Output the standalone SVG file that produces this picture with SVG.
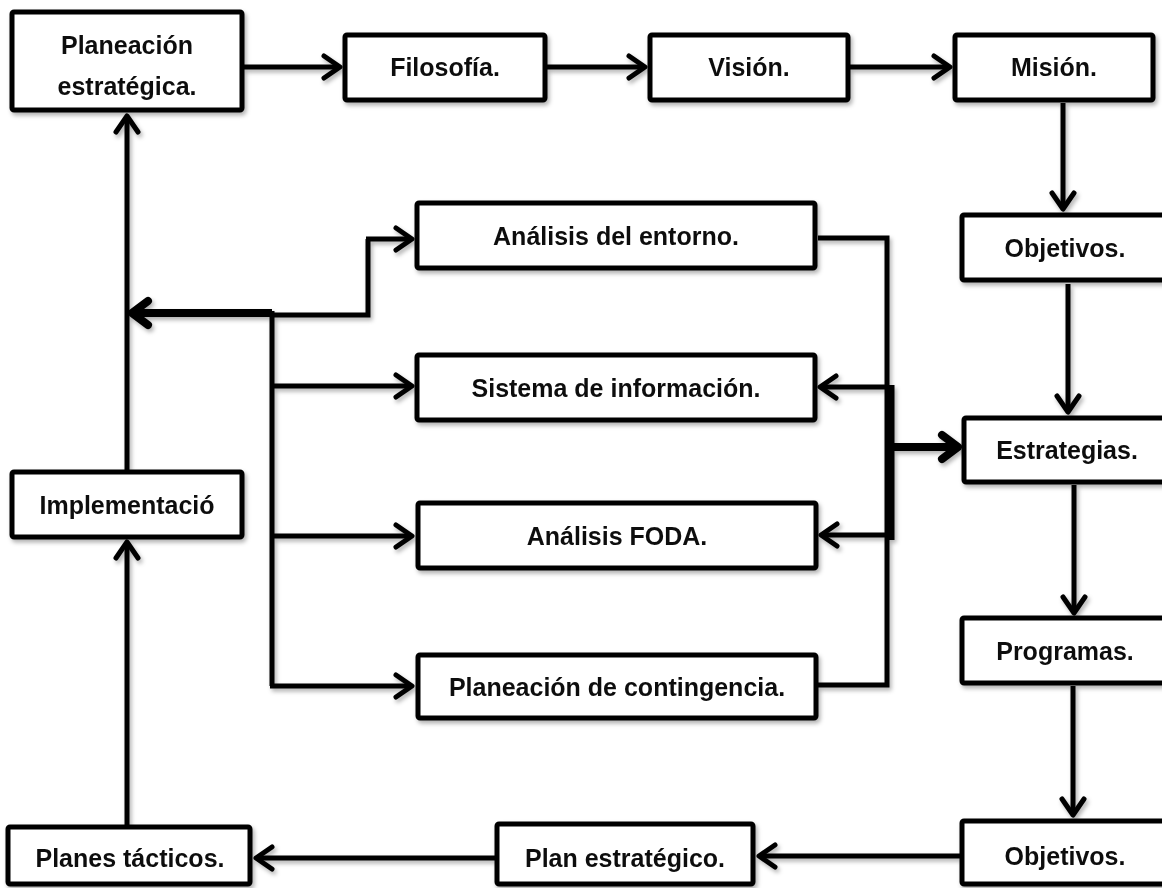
<svg xmlns="http://www.w3.org/2000/svg" width="1162" height="888" viewBox="0 0 1162 888">
<style>
.box{fill:#fff;stroke:#000;stroke-width:5;}
.lbl{font-family:"Liberation Sans",Arial,sans-serif;font-weight:bold;font-size:25px;fill:#111;text-anchor:middle;}
.ln{fill:none;stroke:#000;stroke-width:5;stroke-linejoin:miter;}
.lnA{fill:none;stroke:#000;stroke-width:5;marker-end:url(#ah);}
.thk{fill:none;stroke:#000;stroke-width:9;}
.thkA{fill:none;stroke:#000;stroke-width:8;marker-end:url(#ahT);}
</style>
<defs>
<filter id="sh" x="-10%" y="-10%" width="130%" height="140%">
<feDropShadow dx="2" dy="3" stdDeviation="2" flood-color="#000" flood-opacity="0.3"/>
</filter>
<marker id="ah" markerUnits="userSpaceOnUse" orient="auto" refX="0" refY="0" markerWidth="30" markerHeight="30" overflow="visible">
<path d="M-16,-11 L0,0 L-16,11" fill="none" stroke="#000" stroke-width="5" stroke-linecap="round" stroke-linejoin="round"/>
</marker>
<marker id="ahT" markerUnits="userSpaceOnUse" orient="auto" refX="0" refY="0" markerWidth="30" markerHeight="30" overflow="visible">
<path d="M-16,-12 L0,0 L-16,12" fill="none" stroke="#000" stroke-width="8" stroke-linecap="round" stroke-linejoin="round"/>
</marker>
</defs>
<rect width="1162" height="888" fill="#fff"/>

<g id="connectors" filter="url(#sh)">
<path class="lnA" d="M244,67 H340"/>
<path class="lnA" d="M547,67 H645"/>
<path class="lnA" d="M850,67 H950"/>
<path class="lnA" d="M1063,103 V209"/>
<path class="lnA" d="M1068,284 V412"/>
<path class="lnA" d="M1074,485 V613"/>
<path class="lnA" d="M1073,686 V815"/>
<path class="lnA" d="M960,856 H759"/>
<path class="lnA" d="M495,858 H256"/>
<path class="lnA" d="M127,825 V542"/>
<path class="lnA" d="M127,470 V116"/>
<path class="thkA" d="M272,313 H132"/>
<path class="ln" d="M272,315 H368 V239"/>
<path class="lnA" d="M366,239 H412"/>
<path class="ln" d="M272,311 V686"/>
<path class="lnA" d="M270,686 H412"/>
<path class="lnA" d="M272,386 H412"/>
<path class="lnA" d="M272,536 H412"/>
<path class="ln" d="M818,238 H887 V685 H818"/>
<path class="lnA" d="M887,387 H820"/>
<path class="lnA" d="M887,535 H821"/>
<path class="thk" d="M890,385 V540"/>
<path class="thkA" d="M890,447 H958"/>
</g>

<g id="n-planeacion" filter="url(#sh)">
<rect class="box" x="12" y="12" width="230" height="98" rx="2"/>
<text class="lbl" x="127" y="54">Planeación</text>
<text class="lbl" x="127" y="95">estratégica.</text>
</g>
<g id="n-filosofia" filter="url(#sh)">
<rect class="box" x="345" y="35" width="200" height="65" rx="2"/>
<text class="lbl" x="445" y="76">Filosofía.</text>
</g>
<g id="n-vision" filter="url(#sh)">
<rect class="box" x="650" y="35" width="198" height="65" rx="2"/>
<text class="lbl" x="749" y="76">Visión.</text>
</g>
<g id="n-mision" filter="url(#sh)">
<rect class="box" x="955" y="35" width="198" height="65" rx="2"/>
<text class="lbl" x="1054" y="76">Misión.</text>
</g>
<g id="n-objetivos1" filter="url(#sh)">
<rect class="box" x="962" y="215" width="212" height="65" rx="2"/>
<text class="lbl" x="1065" y="257">Objetivos.</text>
</g>
<g id="n-estrategias" filter="url(#sh)">
<rect class="box" x="964" y="418" width="210" height="64" rx="2"/>
<text class="lbl" x="1067" y="459">Estrategias.</text>
</g>
<g id="n-programas" filter="url(#sh)">
<rect class="box" x="962" y="618" width="212" height="65" rx="2"/>
<text class="lbl" x="1065" y="660">Programas.</text>
</g>
<g id="n-objetivos2" filter="url(#sh)">
<rect class="box" x="962" y="821" width="212" height="63" rx="2"/>
<text class="lbl" x="1065" y="865">Objetivos.</text>
</g>
<g id="n-plan-estrategico" filter="url(#sh)">
<rect class="box" x="497" y="824" width="256" height="60" rx="2"/>
<text class="lbl" x="625" y="867">Plan estratégico.</text>
</g>
<g id="n-planes-tacticos" filter="url(#sh)">
<rect class="box" x="8" y="827" width="242" height="57" rx="2"/>
<text class="lbl" x="130" y="867">Planes tácticos.</text>
</g>
<g id="n-implementacion" filter="url(#sh)">
<rect class="box" x="12" y="472" width="230" height="65" rx="2"/>
<text class="lbl" x="127" y="514">Implementació</text>
</g>
<g id="n-entorno" filter="url(#sh)">
<rect class="box" x="417" y="203" width="398" height="65" rx="2"/>
<text class="lbl" x="616" y="245">Análisis del entorno.</text>
</g>
<g id="n-sistema" filter="url(#sh)">
<rect class="box" x="417" y="355" width="398" height="65" rx="2"/>
<text class="lbl" x="616" y="397">Sistema de información.</text>
</g>
<g id="n-foda" filter="url(#sh)">
<rect class="box" x="418" y="503" width="398" height="65" rx="2"/>
<text class="lbl" x="617" y="545">Análisis FODA.</text>
</g>
<g id="n-contingencia" filter="url(#sh)">
<rect class="box" x="418" y="655" width="398" height="63" rx="2"/>
<text class="lbl" x="617" y="696">Planeación de contingencia.</text>
</g>
</svg>
